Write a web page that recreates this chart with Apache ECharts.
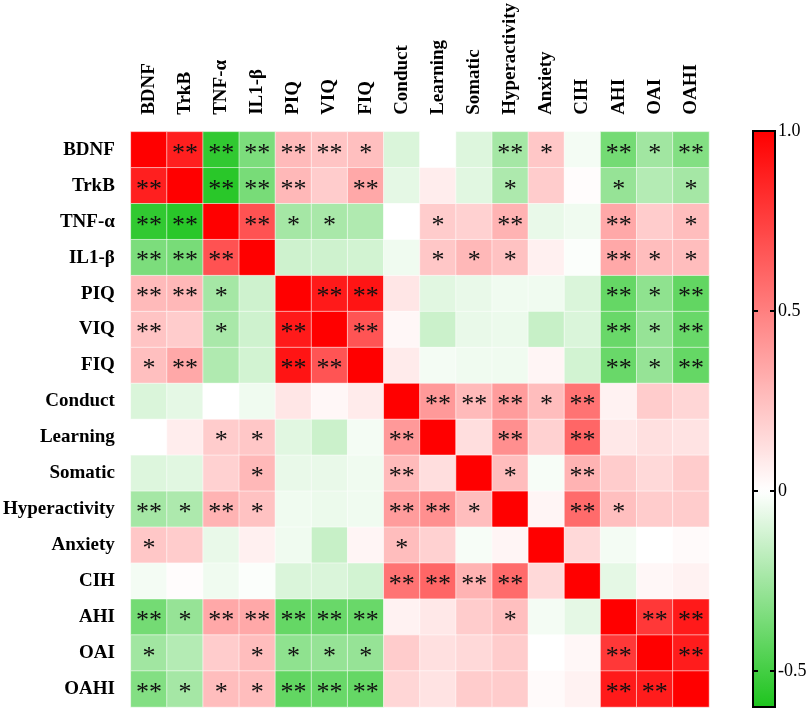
<!DOCTYPE html>
<html>
<head>
<meta charset="utf-8">
<title>Correlation heatmap</title>
<script src="https://cdn.jsdelivr.net/npm/echarts@6.0.0/dist/echarts.min.js"></script>
<style>
    html, body { margin: 0; padding: 0; background: #fff; }
    #main { width: 810px; height: 710px; }
</style>
</head>
<body>
<div id="main"></div>
<script>
    // variables, same order on both axes
    var labels = ['BDNF', 'TrkB', 'TNF-α', 'IL1-β', 'PIQ', 'VIQ', 'FIQ', 'Conduct', 'Learning',
        'Somatic', 'Hyperactivity', 'Anxiety', 'CIH', 'AHI', 'OAI', 'OAHI'];

    // lower triangle of the correlation matrix (row i holds columns 0..i)
    var corr = [
        [1],
        [0.88, 1],
        [-0.55, -0.57, 1],
        [-0.35, -0.36, 0.68, 1],
        [0.27, 0.28, -0.24, -0.13, 1],
        [0.23, 0.20, -0.23, -0.13, 0.90, 1],
        [0.25, 0.34, -0.21, -0.12, 0.92, 0.67, 1],
        [-0.10, -0.07, 0.00, -0.04, 0.10, 0.03, 0.08, 1],
        [0.00, 0.07, 0.20, 0.22, -0.08, -0.14, -0.03, 0.40, 1],
        [-0.09, -0.08, 0.18, 0.28, -0.06, -0.06, -0.04, 0.27, 0.13, 1],
        [-0.24, -0.22, 0.30, 0.24, -0.04, -0.05, -0.04, 0.39, 0.44, 0.26, 1],
        [0.22, 0.20, -0.06, 0.06, -0.04, -0.15, 0.04, 0.26, 0.18, -0.02, 0.04, 1],
        [-0.03, 0.01, -0.04, -0.01, -0.10, -0.10, -0.12, 0.55, 0.60, 0.30, 0.58, 0.15, 1],
        [-0.37, -0.28, 0.34, 0.34, -0.41, -0.40, -0.40, 0.05, 0.09, 0.20, 0.25, -0.03, -0.07, 1],
        [-0.25, -0.20, 0.20, 0.26, -0.30, -0.28, -0.28, 0.20, 0.12, 0.15, 0.20, 0.00, 0.03, 0.78, 1],
        [-0.33, -0.24, 0.26, 0.26, -0.42, -0.40, -0.41, 0.16, 0.11, 0.20, 0.20, 0.02, 0.05, 0.90, 0.89, 1]
    ];

    // significance: 0 none, 1 = *, 2 = ** (same lower triangle layout)
    var stars = [
        [0],
        [2, 0],
        [2, 2, 0],
        [2, 2, 2, 0],
        [2, 2, 1, 0, 0],
        [2, 0, 1, 0, 2, 0],
        [1, 2, 0, 0, 2, 2, 0],
        [0, 0, 0, 0, 0, 0, 0, 0],
        [0, 0, 1, 1, 0, 0, 0, 2, 0],
        [0, 0, 0, 1, 0, 0, 0, 2, 0, 0],
        [2, 1, 2, 1, 0, 0, 0, 2, 2, 1, 0],
        [1, 0, 0, 0, 0, 0, 0, 1, 0, 0, 0, 0],
        [0, 0, 0, 0, 0, 0, 0, 2, 2, 2, 2, 0, 0],
        [2, 1, 2, 2, 2, 2, 2, 0, 0, 0, 1, 0, 0, 0],
        [1, 0, 0, 1, 1, 1, 1, 0, 0, 0, 0, 0, 0, 2, 0],
        [2, 1, 1, 1, 2, 2, 2, 0, 0, 0, 0, 0, 0, 2, 2, 0]
    ];

    var scaleMin = -0.6, scaleMax = 1.0;
    var barTicks = [-0.5, 0, 0.5, 1.0];
    var starText = ['', '*', '**'];

    // green -> white (at 0) -> red, stops every 0.2 from -0.6 to 1.0
    var colorStops = ['#1ec41e', '#69d869', '#b4ebb4', '#ffffff', '#ffcccc',
        '#ff9999', '#ff6666', '#ff3333', '#ff0000'];

    function cell(i, j) {
        return i >= j ? corr[i][j] : corr[j][i];
    }
    function sig(i, j) {
        return i >= j ? stars[i][j] : stars[j][i];
    }

    var data = [];
    for (var i = 0; i < labels.length; i++) {
        for (var j = 0; j < labels.length; j++) {
            data.push([j, i, cell(i, j), starText[sig(i, j)]]);
        }
    }

    var serif = 'Liberation Serif';
    var chart = echarts.init(document.getElementById('main'));
    var option = {
        backgroundColor: '#fff',
        animation: false,
        grid: [
            { left: 129, top: 127, width: 580, height: 580 },
            { left: 753, top: 131, width: 22, height: 576, show: true, z: 10,
              borderColor: '#000', borderWidth: 2, backgroundColor: 'transparent' }
        ],
        xAxis: [
            {
                type: 'category', data: labels, position: 'top', gridIndex: 0,
                axisLine: { show: false }, axisTick: { show: false }, splitLine: { show: false },
                axisLabel: {
                    rotate: -90, margin: 17, interval: 0,
                    fontFamily: serif, fontWeight: 'bold', fontSize: 19, color: '#000'
                }
            },
            {
                type: 'category', data: [''], gridIndex: 1, show: false
            }
        ],
        yAxis: [
            {
                type: 'category', data: labels, inverse: true, gridIndex: 0,
                axisLine: { show: false }, axisTick: { show: false }, splitLine: { show: false },
                axisLabel: {
                    margin: 16, interval: 0,
                    fontFamily: serif, fontWeight: 'bold', fontSize: 19, color: '#000'
                }
            },
            {
                type: 'value', gridIndex: 1, min: scaleMin, max: scaleMax, position: 'right', z: 10,
                axisLine: { show: false }, splitLine: { show: false },
                axisTick: { show: true, inside: true, length: 5, customValues: barTicks,
                            lineStyle: { color: '#000', width: 2 } },
                axisLabel: {
                    customValues: barTicks, margin: 3,
                    fontFamily: serif, fontSize: 18, color: '#000',
                    formatter: function (v) {
                        return v === 1 ? '1.0' : String(v);
                    }
                }
            },
            {
                type: 'value', gridIndex: 1, min: scaleMin, max: scaleMax, position: 'left', z: 10,
                axisLine: { show: false }, splitLine: { show: false },
                axisTick: { show: true, inside: true, length: 5, customValues: barTicks,
                            lineStyle: { color: '#000', width: 2 } },
                axisLabel: { show: false }
            }
        ],
        visualMap: {
            type: 'continuous', min: scaleMin, max: scaleMax, dimension: 2, seriesIndex: 0,
            calculable: false, hoverLink: false,
            left: 753, top: 131, itemWidth: 22, itemHeight: 576, padding: 0,
            inRange: { color: colorStops }
        },
        series: [{
            type: 'heatmap',
            xAxisIndex: 0, yAxisIndex: 0,
            data: data,
            itemStyle: { borderColor: 'rgba(255,255,255,0.55)', borderWidth: 1 },
            label: {
                show: true,
                fontFamily: serif, fontSize: 26, color: '#111',
                offset: [0, 4],
                formatter: function (p) { return p.data[3]; }
            },
            emphasis: { disabled: true }
        }]
    };
    chart.setOption(option);
</script>
</body>
</html>
